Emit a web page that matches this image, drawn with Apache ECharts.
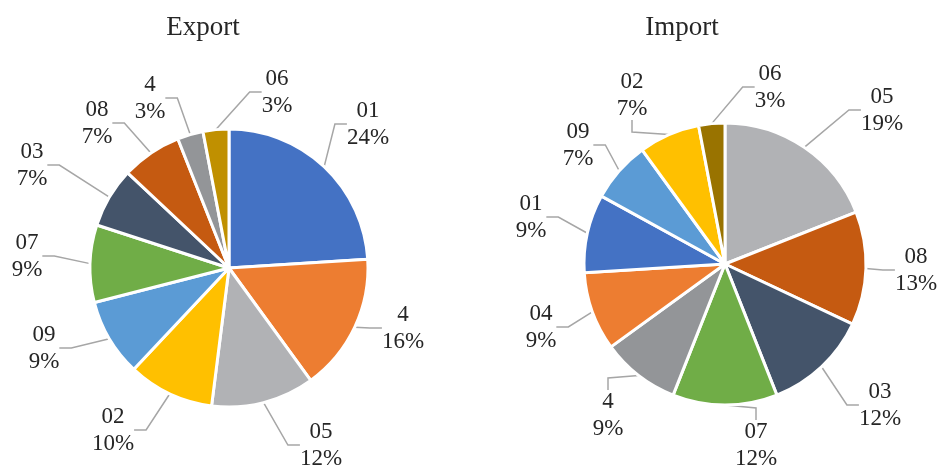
<!DOCTYPE html>
<html>
<head>
<meta charset="utf-8">
<script src="https://cdn.jsdelivr.net/npm/echarts@6/dist/echarts.min.js"></script>
<style>
html,body{margin:0;padding:0;background:#fff;}
#main{width:939px;height:468px;}
</style>
</head>
<body>
<div id="main"></div>
<script>
// Export shares (%)
var exportNames = ['01', '4', '05', '02', '09', '07', '03', '08', '4', '06'];
var exportValues = [24, 16, 12, 10, 9, 9, 7, 7, 3, 3];
var exportColors = ['#4472C4', '#ED7D31', '#B1B2B5', '#FFC000', '#5B9BD5', '#70AD47', '#44546A', '#C55A11', '#939598', '#C09000'];

// Import shares (%)
var importNames = ['05', '08', '03', '07', '4', '04', '01', '09', '02', '06'];
var importValues = [19, 13, 12, 12, 9, 9, 9, 7, 7, 3];
var importColors = ['#B1B2B5', '#C55A11', '#44546A', '#70AD47', '#939598', '#ED7D31', '#4472C4', '#5B9BD5', '#FFC000', '#997300'];

// Label placement (offset of label centre from pie centre), layout only
var exportLabelOffsets = [[139, -144], [174, 60], [92, 177], [-116, 162], [-185, 80], [-202, -12], [-197, -103], [-132, -145], [-79, -170], [48, -176]];
var importLabelOffsets = [[157, -154], [191, 6], [155, 141], [31, 181], [-117, 151], [-184, 63], [-194, -47], [-147, -119], [-93, -169], [45, -177]];

var FONT = '"Liberation Serif", "Times New Roman", serif';
var TEXT = '#262626';
var centers = [[229, 268], [725, 264]];
var radii = [139, 141];
var offsets = [exportLabelOffsets, importLabelOffsets];

function buildData(names, values, colors) {
  return names.map(function (n, i) {
    return { name: n, value: values[i], itemStyle: { color: colors[i] } };
  });
}

function pieSeries(names, values, colors, idx) {
  return {
    type: 'pie',
    center: centers[idx],
    radius: radii[idx],
    startAngle: 90,
    clockwise: true,
    avoidLabelOverlap: false,
    itemStyle: { borderColor: '#fff', borderWidth: 3 },
    label: {
      show: true,
      position: 'outside',
      formatter: '{a|{b}}\n{a|{d}%}',
      color: TEXT,
      fontFamily: FONT,
      fontSize: 23,
      rich: { a: { align: 'center', fontFamily: FONT, fontSize: 23, lineHeight: 27, color: TEXT } }
    },
    labelLine: {
      show: true,
      length: 10,
      length2: 12,
      lineStyle: { color: '#A6A6A6', width: 1.5 }
    },
    labelLayout: function (p) {
      var o = offsets[idx][p.dataIndex];
      var c = centers[idx];
      return { x: c[0] + o[0], y: c[1] + o[1], align: 'center', verticalAlign: 'middle' };
    },
    emphasis: { disabled: true },
    data: buildData(names, values, colors)
  };
}

var chart = echarts.init(document.getElementById('main'));
chart.setOption({
  animation: false,
  backgroundColor: '#fff',
  title: [
    { text: 'Export', left: 198, top: 9, textAlign: 'center', textStyle: { fontFamily: FONT, fontSize: 27, fontWeight: 'normal', color: TEXT } },
    { text: 'Import', left: 677, top: 9, textAlign: 'center', textStyle: { fontFamily: FONT, fontSize: 27, fontWeight: 'normal', color: TEXT } }
  ],
  series: [
    pieSeries(exportNames, exportValues, exportColors, 0),
    pieSeries(importNames, importValues, importColors, 1)
  ]
});
</script>
</body>
</html>
